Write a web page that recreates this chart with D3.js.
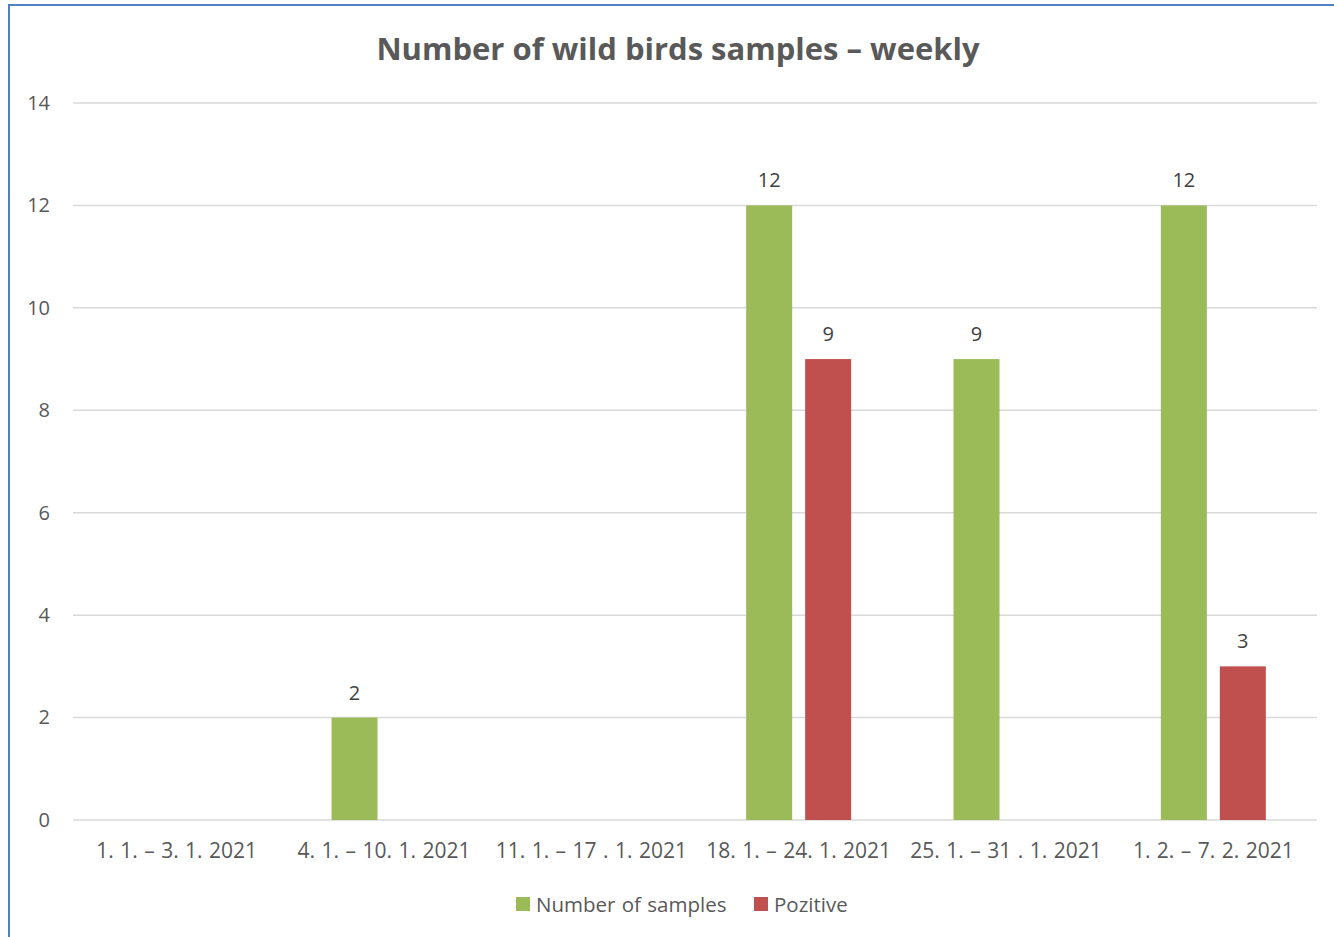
<!DOCTYPE html>
<html>
<head>
<meta charset="utf-8">
<script src="https://cdn.jsdelivr.net/npm/d3@7"></script>
<style>
  html, body { margin: 0; padding: 0; background: #fff; }
  svg { display: block; font-family: "Open Sans", Lato, sans-serif; }
</style>
</head>
<body>
<div id="chart"></div>
<script>
// ── Data ──
const categories = ['1. 1. – 3. 1. 2021', '4. 1. – 10. 1. 2021', '11. 1. – 17 . 1. 2021',
  '18. 1. – 24. 1. 2021', '25. 1. – 31 . 1. 2021', '1. 2. – 7. 2. 2021'];
const seriesNames = ['Number of samples', 'Pozitive'];
const samples = [0, 2, 0, 12, 9, 12];
const positive = [0, 0, 0, 9, 0, 3];
const yTicks = [0, 2, 4, 6, 8, 10, 12, 14];

const COLORS = ['#9BBB59', '#C0504D'];
const TEXT = '#595959';
const FONT = '"Open Sans", Lato, sans-serif';

const W = 1334, H = 937;
const margin = { left: 73, right: 17, top: 103, bottom: 117 };

const svg = d3.select('#chart').append('svg').attr('width', W).attr('height', H);

// chart frame (only top/left edges fall inside the picture)
svg.append('rect').attr('x', 9).attr('y', 5).attr('width', W).attr('height', H)
  .attr('fill', '#fff').attr('stroke', '#4F81BD').attr('stroke-width', 2);

const x = d3.scaleBand().domain(categories).range([margin.left, W - margin.right]);
const y = d3.scaleLinear().domain([0, 14]).range([H - margin.bottom, margin.top]);
const xs = d3.scaleBand().domain(seriesNames).range([-52.5, 52.5]).paddingInner(0.22);

// ── Gridlines ──
svg.append('g').selectAll('line').data(yTicks).join('line')
  .attr('x1', margin.left).attr('x2', W - margin.right)
  .attr('y1', d => y(d)).attr('y2', d => y(d))
  .attr('stroke', '#D9D9D9').attr('stroke-width', 1.5);

// ── Y axis labels ──
const yAxis = d3.axisLeft(y).tickValues(yTicks).tickSize(0).tickPadding(23);
svg.append('g').attr('transform', `translate(${margin.left},0)`).call(yAxis)
  .call(g => g.select('.domain').remove())
  .selectAll('text').attr('font-size', 20).attr('fill', TEXT).attr('font-family', FONT);

// ── X axis labels ──
const xAxis = d3.axisBottom(x).tickSize(0).tickPadding(23);
svg.append('g').attr('transform', `translate(0,${y(0)})`).call(xAxis)
  .call(g => g.select('.domain').remove())
  .selectAll('text').attr('font-size', 21).attr('word-spacing', 1)
  .attr('fill', TEXT).attr('font-family', FONT);

// ── Bars ──
const series = [samples, positive];
series.forEach((vals, si) => {
  const data = vals.map((v, i) => ({ cat: categories[i], v })).filter(d => d.v > 0);
  const gs = svg.append('g');
  gs.selectAll('rect').data(data).join('rect')
    .attr('x', d => x(d.cat) + x.bandwidth() / 2 + xs(seriesNames[si]))
    .attr('y', d => y(d.v))
    .attr('width', xs.bandwidth())
    .attr('height', d => y(0) - y(d.v))
    .attr('fill', COLORS[si]);
  gs.selectAll('text').data(data).join('text')
    .attr('x', d => x(d.cat) + x.bandwidth() / 2 + xs(seriesNames[si]) + xs.bandwidth() / 2)
    .attr('y', d => y(d.v) - 18)
    .attr('text-anchor', 'middle').attr('font-size', 20).attr('fill', '#404040')
    .text(d => d.v);
});

// ── Title ──
svg.append('text').attr('x', 678).attr('y', 60).attr('text-anchor', 'middle')
  .attr('font-size', 31).attr('font-weight', 'bold').attr('fill', TEXT)
  .text('Number of wild birds samples – weekly');

// ── Legend ──
const legendItems = [{ name: seriesNames[0], x: 516 }, { name: seriesNames[1], x: 754 }];
const lg = svg.append('g').selectAll('g').data(legendItems).join('g')
  .attr('transform', (d) => `translate(${d.x},897)`);
lg.append('rect').attr('width', 14).attr('height', 14).attr('fill', (d, i) => COLORS[i]);
lg.append('text').attr('x', 20).attr('y', 14.5).attr('font-size', 20.5).attr('word-spacing', 1)
  .attr('fill', TEXT).text(d => d.name);
</script>
</body>
</html>
